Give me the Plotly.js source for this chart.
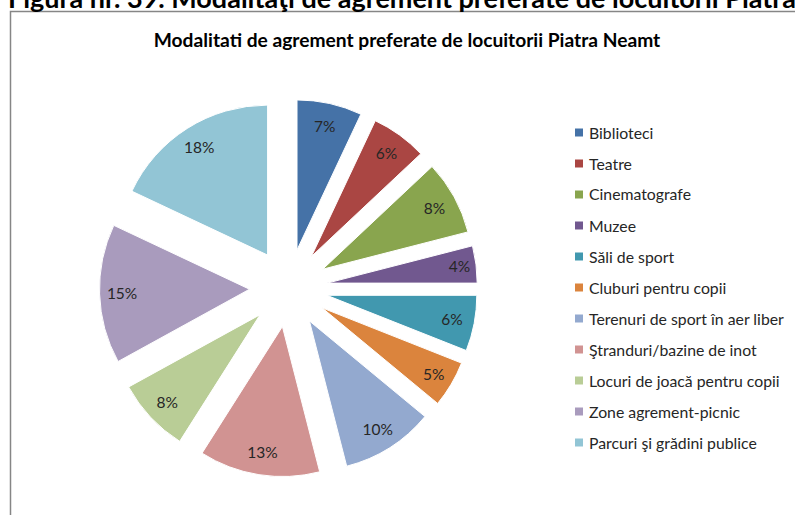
<!DOCTYPE html>
<html>
<head>
<meta charset="utf-8">
<script src="https://cdn.plot.ly/plotly-3.0.1.min.js"></script>
<style>
  html, body { margin: 0; padding: 0; background: #fff; }
  #chart { width: 795px; height: 515px; }
</style>
</head>
<body>
<div id="chart"></div>
<script>
// ---- data ----
const categories = [
  "Biblioteci",
  "Teatre",
  "Cinematografe",
  "Muzee",
  "Săli de sport",
  "Cluburi pentru copii",
  "Terenuri de sport în aer liber",
  "Ştranduri/bazine de inot",
  "Locuri de joacă pentru copii",
  "Zone agrement-picnic",
  "Parcuri şi grădini publice"
];
const shares = [7, 6, 8, 4, 6, 5, 10, 13, 8, 15, 18];
const sliceColors = [
  "#4572A7", "#AA4643", "#89A54E", "#71588F", "#4198AF", "#DB843D",
  "#93A9CF", "#D19392", "#B9CD96", "#A99BBD", "#92C5D5"
];
const chartTitle = "Modalitati de agrement preferate de locuitorii Piatra Neamt";
const figureCaption = "Figura nr. 39. Modalitaţi de agrement preferate de locuitorii Piatra Neamt";

// ---- layout constants ----
const W = 795, H = 515;
const FONT = "Lato, 'Open Sans', sans-serif";
const pieDomain = { x: [99.5 / W, 477.5 / W], y: [1 - 477 / H, 1 - 99 / H] };
const PULL = 0.26;

const pieTrace = {
  type: "pie",
  labels: categories,
  values: shares,
  sort: false,
  direction: "clockwise",
  rotation: 0,
  pull: PULL,
  domain: pieDomain,
  marker: { colors: sliceColors, line: { color: "#ffffff", width: 1 } },
  textinfo: "none",
  hoverinfo: "label+percent",
  showlegend: false
};

// transparent ring overlay carries the percentage labels near the rim
const labelTrace = {
  type: "pie",
  labels: categories,
  values: shares,
  sort: false,
  direction: "clockwise",
  rotation: 0,
  pull: PULL,
  hole: 0.7,
  domain: pieDomain,
  marker: { colors: categories.map(() => "rgba(0,0,0,0)"), line: { width: 0 } },
  texttemplate: "%{percent:.0%}",
  textposition: "inside",
  insidetextorientation: "horizontal",
  insidetextfont: { family: FONT, size: 15.5, color: "#262626" },
  hoverinfo: "skip",
  showlegend: false
};

// custom legend (Excel-style spacing), built from the category/colour arrays
const legendAnnotations = categories.map((c, i) => ({
  xref: "paper", yref: "paper",
  x: 587 / W, y: 1 - (132 + 31 * i) / H,
  xanchor: "left", yanchor: "middle",
  text: c, showarrow: false,
  font: { family: FONT, size: 15.8, color: "#262626" }
}));
const legendShapes = categories.map((c, i) => ({
  type: "rect", xref: "paper", yref: "paper",
  x0: 575 / W, x1: 583 / W,
  y0: 1 - (136.5 + 31 * i) / H, y1: 1 - (128.5 + 31 * i) / H,
  fillcolor: sliceColors[i], line: { width: 0 }
}));

const layout = {
  width: W, height: H,
  margin: { l: 0, r: 0, t: 0, b: 0 },
  paper_bgcolor: "#ffffff",
  showlegend: false,
  title: {
    text: "<b>" + chartTitle + "</b>",
    x: 407 / W, xanchor: "center",
    y: 1 - 40 / H, yanchor: "middle",
    font: { family: FONT, size: 19.2, color: "#000000" }
  },
  shapes: [
    {
      type: "rect", xref: "paper", yref: "paper",
      x0: 10.5 / W, x1: 1.02, y0: -0.02, y1: 1 - 11.5 / H,
      line: { color: "#868686", width: 1.5 }, fillcolor: "rgba(0,0,0,0)"
    }
  ].concat(legendShapes),
  annotations: [
    {
      xref: "paper", yref: "paper",
      x: 6 / W, y: 1, xanchor: "left", yanchor: "bottom", yshift: -16,
      text: "<b>" + figureCaption + "</b>", showarrow: false,
      font: { family: FONT, size: 27, color: "#000000" }
    }
  ].concat(legendAnnotations)
};

Plotly.newPlot("chart", [pieTrace, labelTrace], layout, { displayModeBar: false, staticPlot: true });
</script>
</body>
</html>
